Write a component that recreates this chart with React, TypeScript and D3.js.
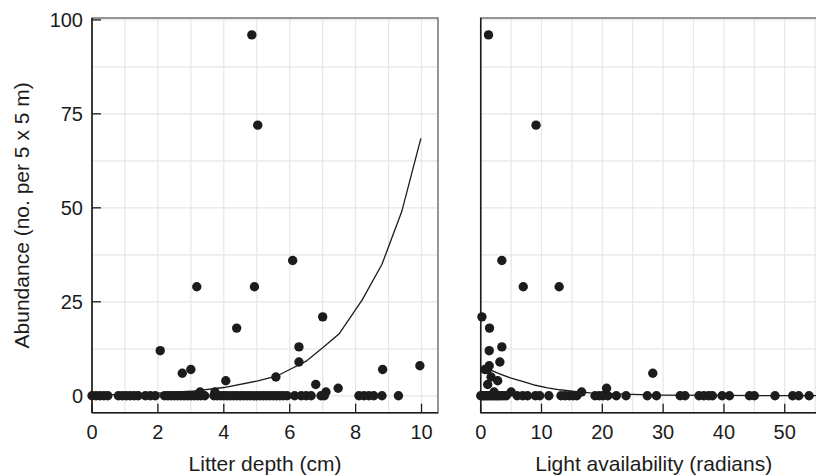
import React from "react";
import * as d3 from "d3";

// ---- data ----
const litterX = [4.85, 5.03, 6.09, 3.18, 4.93, 7.0, 4.39, 6.28, 2.07, 6.28, 8.82, 9.95, 3.0, 2.74, 4.06, 5.58, 6.79, 7.47, 7.1, 3.28, 3.73];
const litterY = [96, 72, 36, 29, 29, 21, 18, 13, 12, 9, 7, 8, 7, 6, 4, 5, 3, 2, 1, 1, 1];
const litterZeroX = [0, 0.12, 0.24, 0.36, 0.48, 0.8, 0.92, 1.04, 1.16, 1.28, 1.4, 1.62, 1.77, 1.92, 2.2, 2.3, 2.4, 2.5, 2.6, 2.7, 2.8, 2.9, 3.0, 3.1, 3.2, 3.3, 3.42, 3.7, 3.8, 3.9, 4.0, 4.1, 4.2, 4.3, 4.4, 4.5, 4.6, 4.7, 4.8, 4.9, 5.0, 5.1, 5.2, 5.3, 5.4, 5.5, 5.6, 5.7, 5.8, 5.92, 6.15, 6.35, 6.5, 6.65, 6.95, 7.05, 8.1, 8.25, 8.4, 8.55, 8.8, 9.3];

const lightX = [1.28, 9.1, 3.48, 7.0, 12.9, 0.2, 1.45, 1.4, 3.48, 3.15, 1.4, 0.7, 1.1, 1.7, 2.8, 1.15, 28.3, 20.7, 16.6, 5.0, 2.2];
const lightY = [96, 72, 36, 29, 29, 21, 18, 12, 13, 9, 8, 7, 7, 5, 4, 3, 6, 2, 1, 1, 1];
const lightZeroX = [0, 0.25, 0.5, 0.75, 1.0, 1.3, 1.6, 1.9, 2.2, 2.5, 2.8, 3.1, 3.4, 3.8, 4.2, 6.0, 6.9, 7.7, 9.0, 9.7, 11.2, 13.2, 13.9, 14.6, 15.2, 15.8, 18.8, 19.5, 20.1, 20.9, 22.3, 23.9, 27.4, 28.9, 32.8, 33.6, 35.9, 36.7, 37.5, 38.1, 39.7, 40.9, 44.2, 45.0, 48.4, 51.3, 52.3, 54.0];

const litterCurveX = [0, 1, 2, 3, 4, 5, 5.6, 6, 6.5, 7, 7.5, 8.2, 8.8, 9.4, 9.98];
const litterCurveY = [0.2, 0.4, 0.7, 1.2, 2.2, 3.9, 5.2, 7.0, 9.2, 12.8, 16.5, 25.5, 35, 49, 68.5];

const lightCurveX = [1.4, 3, 5, 7.15, 9, 11, 13, 15.4, 18, 21, 25, 30, 40, 50, 57];
const lightCurveY = [7.0, 5.9, 4.7, 3.7, 2.8, 2.1, 1.6, 1.2, 0.8, 0.55, 0.35, 0.2, 0.1, 0.05, 0.03];

const yTicks = [0, 25, 50, 75, 100];
const yGrid = [0, 12.5, 25, 37.5, 50, 62.5, 75, 87.5, 100];
const litterTicks = [0, 2, 4, 6, 8, 10];
const litterGrid = [1, 2, 3, 4, 5, 6, 7, 8, 9, 10];
const lightTicks = [0, 10, 20, 30, 40, 50];
const lightGrid = [5, 10, 15, 20, 25, 30, 35, 40, 45, 50, 55];

const FONT = "'Liberation Sans', Arial, Helvetica, sans-serif";
const INK = "#1c1c1c";

const TOP = 18;
const BOTTOM = 412.7;
const yScale = d3.scaleLinear().domain([-4.5, 100.5]).range([BOTTOM, TOP]);

type PanelProps = {
  x0: number;
  x1: number;
  domain: [number, number];
  ptsX: number[];
  ptsY: number[];
  zeroX: number[];
  curveX: number[];
  curveY: number[];
  ticks: number[];
  grid: number[];
  title: string;
  showY: boolean;
};

function Panel(p: PanelProps) {
  const x = d3.scaleLinear().domain(p.domain).range([p.x0, p.x1]);
  const line = d3
    .line<number>()
    .x((_, i) => x(p.curveX[i]))
    .y((_, i) => yScale(p.curveY[i]));
  const pts: [number, number][] = [
    ...p.zeroX.map((v) => [v, 0] as [number, number]),
    ...p.ptsX.map((v, i) => [v, p.ptsY[i]] as [number, number]),
  ];
  const tickLen = 9;
  return (
    <g>
      {p.grid.map((g) => (
        <line key={"vg" + g} x1={x(g)} x2={x(g)} y1={TOP} y2={BOTTOM} stroke="#e6e6e6" strokeWidth={1.2} />
      ))}
      {yGrid.map((g) => (
        <line key={"hg" + g} x1={p.x0} x2={p.x1} y1={yScale(g)} y2={yScale(g)} stroke="#e6e6e6" strokeWidth={1.2} />
      ))}
      <rect x={p.x0} y={TOP} width={p.x1 - p.x0} height={BOTTOM - TOP} fill="none" stroke="#6a6a6a" strokeWidth={1.4} />
      <path d={line(p.curveX) || ""} fill="none" stroke={INK} strokeWidth={1.3} />
      {pts.map((d, i) => (
        <circle key={"p" + i} cx={x(d[0])} cy={yScale(d[1])} r={4.7} fill={INK} />
      ))}
      <line x1={p.x0} x2={p.x0} y1={TOP} y2={BOTTOM} stroke={INK} strokeWidth={1.5} />
      <line x1={p.x0} x2={p.x1} y1={BOTTOM} y2={BOTTOM} stroke={INK} strokeWidth={1.5} />
      {p.ticks.map((t) => (
        <g key={"xt" + t}>
          <line x1={x(t)} x2={x(t)} y1={BOTTOM} y2={BOTTOM - tickLen} stroke={INK} strokeWidth={1.3} />
          <text x={x(t)} y={439.3} textAnchor="middle" fontSize={20} fontFamily={FONT} fill={INK}>
            {t}
          </text>
        </g>
      ))}
      {p.showY &&
        yTicks.map((t) => (
          <g key={"yt" + t}>
            <line x1={p.x0} x2={p.x0 + tickLen} y1={yScale(t)} y2={yScale(t)} stroke={INK} strokeWidth={1.3} />
            <text x={83} y={yScale(t)} dy="0.36em" textAnchor="end" fontSize={20} fontFamily={FONT} fill={INK}>
              {t}
            </text>
          </g>
        ))}
      <text x={(p.x0 + p.x1) / 2} y={470.7} textAnchor="middle" fontSize={21} fontFamily={FONT} fill={INK}>
        {p.title}
      </text>
    </g>
  );
}

export default function App() {
  return (
    <svg width={816} height={476} style={{ position: "absolute", left: 0, top: 0, background: "#fff" }}>
      <rect x={0} y={0} width={816} height={476} fill="#fff" />
      <Panel
        x0={92}
        x1={438}
        domain={[0, 10.5]}
        ptsX={litterX}
        ptsY={litterY}
        zeroX={litterZeroX}
        curveX={litterCurveX}
        curveY={litterCurveY}
        ticks={litterTicks}
        grid={litterGrid}
        title="Litter depth (cm)"
        showY={true}
      />
      <Panel
        x0={480.7}
        x1={826.7}
        domain={[0, 56.9]}
        ptsX={lightX}
        ptsY={lightY}
        zeroX={lightZeroX}
        curveX={lightCurveX}
        curveY={lightCurveY}
        ticks={lightTicks}
        grid={lightGrid}
        title="Light availability (radians)"
        showY={false}
      />
      <text
        transform={`translate(28.5, ${(TOP + BOTTOM) / 2}) rotate(-90)`}
        textAnchor="middle"
        fontSize={21}
        fontFamily={FONT}
        fill={INK}
      >
        Abundance (no. per 5 x 5 m)
      </text>
    </svg>
  );
}
